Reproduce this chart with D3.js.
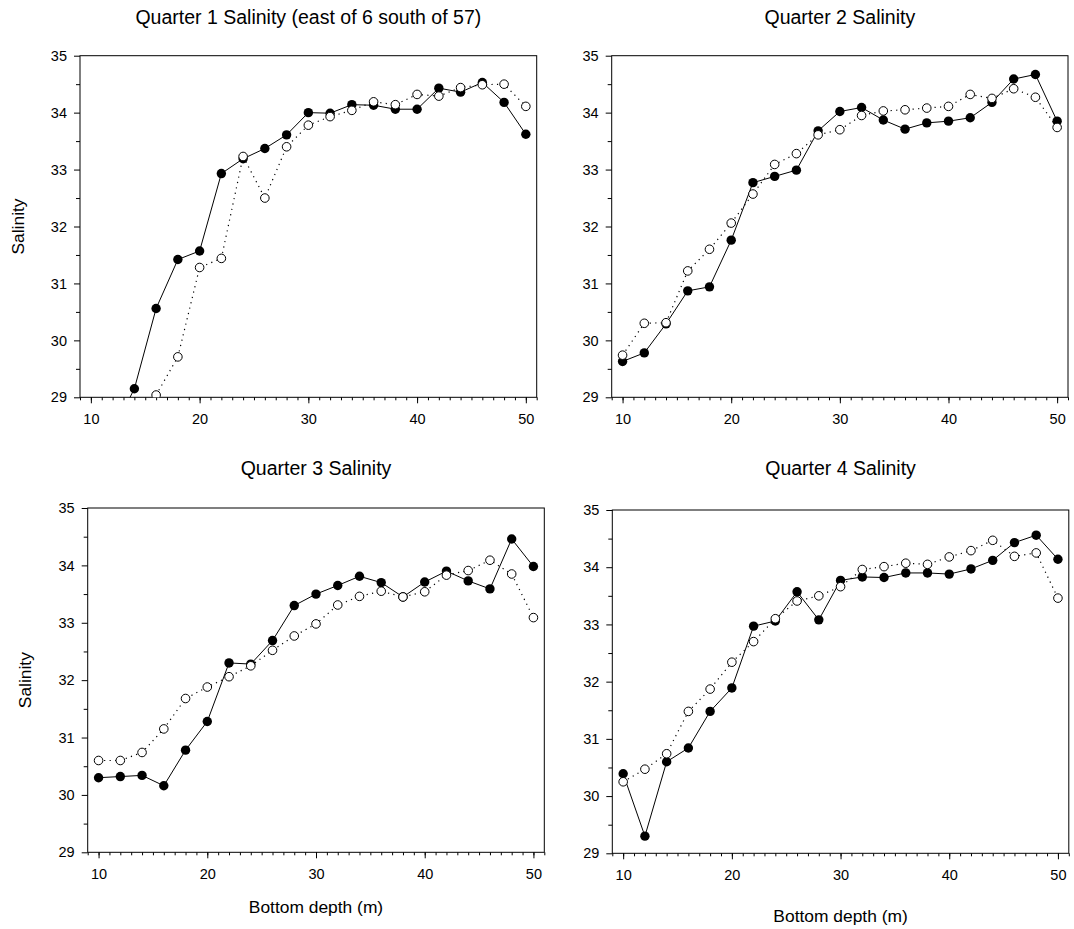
<!DOCTYPE html>
<html>
<head>
<meta charset="utf-8">
<script src="https://cdn.jsdelivr.net/npm/d3@7"></script>
<style>
  body { margin: 0; background: #fff; }
  text { font-family: "Liberation Sans", Arial, sans-serif; fill: #000; }
</style>
</head>
<body>
<svg id="chart" width="1074" height="929"></svg>
<script>
// bottom depth (m) along x
const depth = [10, 12, 14, 16, 18, 20, 22, 24, 26, 28, 30, 32, 34, 36, 38, 40, 42, 44, 46, 48, 50];

// salinity, filled circles (solid line) and open circles (dotted line)
const q1Filled = [null, 28.4, 29.15, 30.56, 31.42, 31.57, 32.93, 33.19, 33.37, 33.61, 34.00, 33.99, 34.14, 34.13, 34.06, 34.06, 34.43, 34.36, 34.53, 34.18, 33.62];
const q1Open   = [null, null, null, 29.04, 29.71, 31.28, 31.44, 33.23, 32.50, 33.40, 33.78, 33.93, 34.04, 34.19, 34.14, 34.32, 34.29, 34.44, 34.49, 34.50, 34.11];
const q2Filled = [29.63, 29.78, 30.29, 30.87, 30.94, 31.76, 32.77, 32.88, 32.99, 33.68, 34.02, 34.09, 33.87, 33.71, 33.82, 33.85, 33.91, 34.18, 34.59, 34.67, 33.85];
const q2Open   = [29.74, 30.30, 30.31, 31.22, 31.60, 32.06, 32.57, 33.09, 33.28, 33.61, 33.70, 33.95, 34.03, 34.05, 34.08, 34.11, 34.32, 34.25, 34.42, 34.27, 33.74];
const q3Filled = [30.30, 30.32, 30.34, 30.16, 30.78, 31.28, 32.30, 32.28, 32.69, 33.30, 33.50, 33.65, 33.81, 33.70, 33.45, 33.71, 33.90, 33.73, 33.59, 34.46, 33.98];
const q3Open   = [30.60, 30.60, 30.74, 31.15, 31.68, 31.88, 32.06, 32.25, 32.52, 32.77, 32.98, 33.31, 33.46, 33.55, 33.45, 33.54, 33.83, 33.91, 34.09, 33.85, 33.09];
const q4Filled = [30.39, 29.30, 30.60, 30.84, 31.48, 31.89, 32.97, 33.06, 33.57, 33.08, 33.77, 33.83, 33.82, 33.90, 33.90, 33.88, 33.97, 34.12, 34.43, 34.56, 34.14];
const q4Open   = [30.25, 30.47, 30.74, 31.48, 31.87, 32.34, 32.70, 33.10, 33.41, 33.50, 33.66, 33.96, 34.01, 34.07, 34.05, 34.18, 34.29, 34.47, 34.19, 34.25, 33.46];

const titles = ["Quarter 1 Salinity (east of 6 south of 57)", "Quarter 2 Salinity", "Quarter 3 Salinity", "Quarter 4 Salinity"];
const xTicks = [10, 20, 30, 40, 50];
const yTicks = [29, 30, 31, 32, 33, 34, 35];
const xLabel = "Bottom depth (m)";
const yLabel = "Salinity";

// panel boxes in page pixels
const boxes = [
  {l: 80,    t: 55.7, r: 536.7,  b: 397.3, title: 23.5,  ylab: 18},
  {l: 611.7, t: 55.7, r: 1068,   b: 397.3, title: 23.5},
  {l: 87.7,  t: 508,  r: 544.3,  b: 852.3, title: 474.5, ylab: 25, xlab: 913},
  {l: 612.3, t: 510,  r: 1068.8, b: 853.3, title: 474.5, xlab: 921.5}
];
const series = [[q1Filled, q1Open], [q2Filled, q2Open], [q3Filled, q3Open], [q4Filled, q4Open]];

const svg = d3.select("#chart");

boxes.forEach((bx, i) => {
  const x = d3.scaleLinear().domain([9, 51]).range([bx.l, bx.r]);
  const y = d3.scaleLinear().domain([29, 35]).range([bx.b, bx.t]);
  const g = svg.append("g");

  g.append("clipPath").attr("id", "clip" + i)
    .append("rect").attr("x", bx.l).attr("y", bx.t)
    .attr("width", bx.r - bx.l).attr("height", bx.b - bx.t);

  // minor ticks
  g.append("g").attr("transform", `translate(0,${bx.b})`)
    .call(d3.axisBottom(x).tickValues(d3.range(9, 52, 1)).tickSize(3).tickFormat(""))
    .call(a => a.select(".domain").remove());
  g.append("g").attr("transform", `translate(${bx.l},0)`)
    .call(d3.axisLeft(y).tickValues(d3.range(29.5, 35, 1)).tickSize(4).tickFormat(""))
    .call(a => a.select(".domain").remove());

  // major ticks
  const xa = g.append("g").attr("transform", `translate(0,${bx.b})`)
    .call(d3.axisBottom(x).tickValues(xTicks).tickSize(6).tickPadding(10).tickSizeOuter(0).tickFormat(d3.format("d")));
  xa.selectAll("text").style("font-size", "14.5px");
  const ya = g.append("g").attr("transform", `translate(${bx.l},0)`)
    .call(d3.axisLeft(y).tickValues(yTicks).tickSize(6).tickPadding(7).tickSizeOuter(0).tickFormat(d3.format("d")));
  ya.selectAll("text").style("font-size", "14.5px");
  g.selectAll(".domain").remove();
  g.selectAll(".tick line").attr("stroke", "#000");

  // frame
  g.append("rect").attr("x", bx.l).attr("y", bx.t)
    .attr("width", bx.r - bx.l).attr("height", bx.b - bx.t)
    .attr("fill", "none").attr("stroke", "#000").attr("stroke-width", 1);

  const [filled, open] = series[i];
  const pts = vals => depth.map((d, k) => ({d: d, v: vals[k]})).filter(p => p.v !== null);
  const line = d3.line().x(p => x(p.d)).y(p => y(p.v));

  const plot = g.append("g").attr("clip-path", `url(#clip${i})`);
  plot.append("path").datum(pts(filled)).attr("d", line)
    .attr("fill", "none").attr("stroke", "#000").attr("stroke-width", 1);
  plot.append("path").datum(pts(open)).attr("d", line)
    .attr("fill", "none").attr("stroke", "#000").attr("stroke-width", 1.2)
    .attr("stroke-dasharray", "1.2,4.3");

  const inRange = p => p.v >= 29 - 0.05;
  plot.selectAll(".filled").data(pts(filled).filter(inRange)).join("circle")
    .attr("class", "filled").attr("cx", p => x(p.d)).attr("cy", p => y(p.v))
    .attr("r", 4.7).attr("fill", "#000");
  plot.selectAll(".open").data(pts(open).filter(inRange)).join("circle")
    .attr("class", "open").attr("cx", p => x(p.d)).attr("cy", p => y(p.v))
    .attr("r", 4.3).attr("fill", "#fff").attr("stroke", "#000").attr("stroke-width", 1);

  g.append("text").attr("x", (bx.l + bx.r) / 2).attr("y", bx.title)
    .attr("text-anchor", "middle").style("font-size", "19.5px").text(titles[i]);

  if (bx.ylab) {
    g.append("text").attr("transform", `translate(${bx.ylab},${(bx.t + bx.b) / 2}) rotate(-90)`)
      .attr("text-anchor", "middle").attr("dy", "0.35em").style("font-size", "17.4px").text(yLabel);
  }
  if (bx.xlab) {
    g.append("text").attr("x", (bx.l + bx.r) / 2).attr("y", bx.xlab)
      .attr("text-anchor", "middle").style("font-size", "17.4px").text(xLabel);
  }
});
</script>
</body>
</html>
